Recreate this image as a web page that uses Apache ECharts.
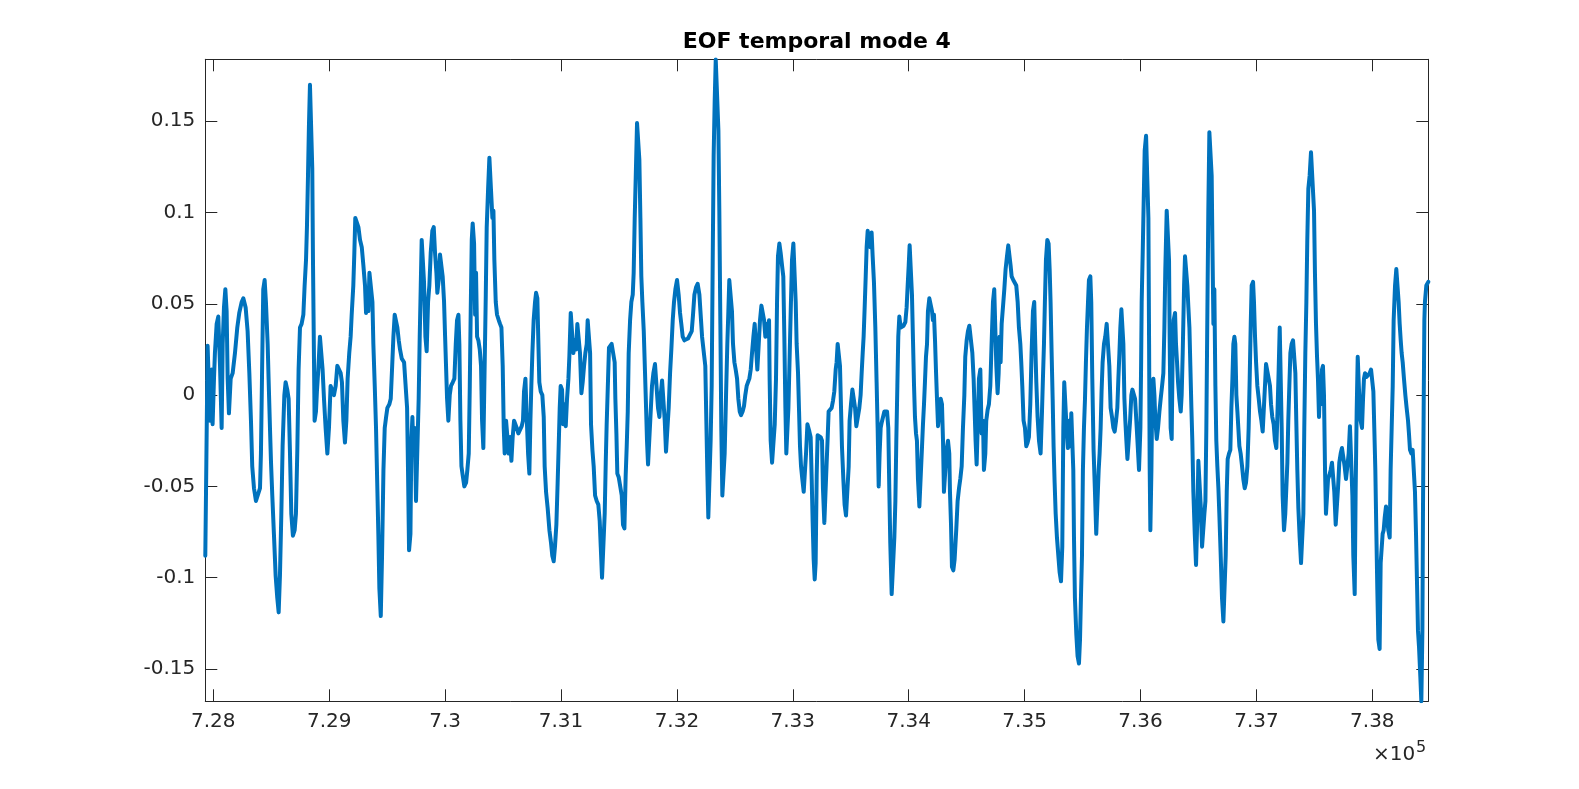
<!DOCTYPE html>
<html>
<head>
<meta charset="utf-8">
<script src="https://cdn.jsdelivr.net/npm/echarts@6/dist/echarts.min.js"></script>
<style>
html,body{margin:0;padding:0;background:#fff;}
#chart{width:1579px;height:789px;}
</style>
</head>
<body>
<div id="chart"></div>
<script>
// ---------------- data ----------------
const chartTitle = 'EOF temporal mode 4';
const xTicks = [728000,729000,730000,731000,732000,733000,734000,735000,736000,737000,738000];
const yTicks = [-0.15,-0.1,-0.05,0,0.05,0.1,0.15];
const xRange = [727931, 738483];
const yRange = [-0.1677, 0.1839];
const exponentBase = '\u00d710';
const exponentPower = '5';

// time (datenum)
const dates = [
727931,727940,727951,727957,727971,727986,727994,728006,728014,728029,
728043,728058,728072,728081,728092,728104,728115,728124,728135,728150,
728167,728187,728207,728224,728245,728259,728279,728296,728311,728325,
728336,728351,728368,728385,728403,728411,728420,728431,728443,728454,
728469,728477,728489,728498,728509,728523,728538,728552,728564,728575,
728587,728598,728613,728624,728638,728650,728661,728673,728687,728702,
728713,728725,728736,728748,728762,728777,728788,728800,728808,728817,
728825,728834,728846,728854,728860,728869,728874,728886,728894,728906,
728920,728932,728943,728955,728969,728984,728998,729012,729027,729041,
729056,729070,729084,729099,729110,729122,729136,729148,729159,729173,
729185,729194,729208,729217,729225,
729232,729252,729266,729281,729295,729309,729318,729330,729338,729347,
729361,729373,729381,729393,729404,729416,729424,729433,729445,729456,
729468,729479,729491,729502,729519,729531,729542,729554,729565,729577,
729588,729600,729611,729626,729646,729663,729672,729680,729689,729701,
729709,729718,729726,729738,729749,729764,729772,729781,729790,729798,
729810,729818,729830,729841,729853,729864,729876,729890,729902,729913,
729925,729933,729945,729956,729968,729979,729991,730000,730008,730017,
730028,730040,730051,730066,730080,730092,730103,730115,730123,730132,
730141,730152,730166,730181,730192,730204,730213,730221,730230,730238,
730250,730259,730267,730276,730287,730299,730310,730319,730330,730342,
730351,730359,730371,730382,730397,730408,730417,730425,730437,730448,
730463,730474,730486,730497,730506,730514,730526,730537,730549,
730560,730572,730583,730595,730606,730618,730632,730647,730661,730672,
730681,730693,730704,730716,730727,730736,730744,730753,730764,730776,
730785,730796,730805,730813,730825,730839,730851,730859,730871,730885,
730900,730914,730925,730937,730948,730960,730971,730980,730989,730997,
731009,731018,731029,731041,731052,731064,731072,731084,731095,731107,
731118,731130,731141,731153,731164,731176,731187,731199,731210,731222,
731230,731242,731251,731259,731271,731282,731294,731308,731322,731334,
731343,731354,731368,731377,731386,731394,731406,731414,731426,731437,
731452,731463,731469,731478,731486,731498,731509,731524,731535,731547,
731558,731567,731576,731584,731596,731607,731619,731627,731636,731645,
731656,731668,731676,731685,731693,731702,731714,731725,731734,731742,
731751,731762,731774,731785,731797,731811,731826,731837,731849,
731860,731872,731883,731895,731906,731918,731929,731941,731952,731964,
731975,731987,732001,732015,732027,732038,732050,732064,732079,732096,
732113,732128,732139,732151,732165,732179,732194,732205,732217,732234,
732245,732254,732263,732271,732283,732291,732300,732309,732317,732326,
732335,732346,732358,732366,732375,732383,732392,732404,732412,732424,
732435,732444,732452,732467,732475,732484,732496,732507,732519,732530,
732542,732553,732567,732579,732590,732602,732613,732625,732637,732648,
732660,732671,732683,732694,732706,732717,732729,732740,732752,732763,
732775,732786,732795,732800,732809,732821,732832,732844,732855,732864,
732872,732884,732895,732907,732918,732927,732936,732944,732953,732962,
732970,732982,732993,733005,733016,733025,733033,733045,733054,733062,
733071,733082,733094,733105,733114,733126,733137,
733143,733154,733163,733171,733180,733189,733197,733206,733214,733226,
733240,733252,733260,733272,733283,733292,733301,733309,733321,733335,
733347,733358,733370,733378,733387,733398,733407,733416,733424,733436,
733447,733459,733470,733482,733490,733502,733514,733525,733537,733548,
733562,733574,733585,733594,733603,733611,733620,733629,733637,733646,
733657,733669,733680,733689,733700,733712,733723,733732,733741,733749,
733758,733767,733778,733790,733801,733813,733824,733833,733841,733853,
733864,733876,733885,733893,733902,733910,733919,733931,733942,733956,
733971,733982,733991,734000,734008,734020,734028,734037,734046,734054,
734063,734071,734080,734092,734103,734115,734123,734132,734140,734149,
734158,734166,734178,734189,734201,734209,734218,734227,734235,734244,
734253,734264,734276,734287,734296,734304,734316,734327,734339,734350,
734356,734365,734373,734385,734396,
734410,734422,734434,734445,734457,734468,734480,734488,734500,734511,
734523,734537,734549,734560,734569,734577,734586,734595,734606,734618,
734629,734641,734649,734661,734669,734681,734692,734704,734715,734727,
734738,734747,734756,734767,734776,734784,734793,734802,734813,734825,
734836,734848,734859,734871,734879,734888,734902,734917,734928,734940,
734951,734963,734971,734980,734991,735003,735014,735026,735037,735049,
735060,735072,735083,735092,735101,735112,735124,735138,735150,735158,
735167,735175,735184,735196,735207,735216,735224,735233,735242,735250,
735259,735268,735279,735291,735302,735314,735325,735334,735342,735354,
735362,735374,735383,735394,735403,735414,735420,735426,735434,735446,
735457,735469,735478,735486,735495,735503,735512,735521,735529,735538,
735547,735555,735567,735575,735584,735595,735607,735618,735630,735639,
735647,735656,735664,735673,735685,735696,735708,735719,735731,735742,
735754,
735766,735777,735789,735800,735809,735818,735826,735835,735843,735852,
735861,735869,735878,735887,735898,735910,735921,735930,735941,735953,
735964,735976,735987,735999,736005,736010,736019,736028,736036,736048,
736059,736068,736074,736079,736085,736094,736102,736111,736120,736128,
736140,736151,736163,736174,736186,736197,736206,736214,736226,736237,
736246,736252,736260,736269,736278,736286,736298,736306,736315,736324,
736335,736347,736355,736364,736376,736384,736396,736404,736413,736422,
736430,736439,736447,736456,736468,736479,736491,736499,736511,736519,
736531,736542,736551,736560,736568,736577,736585,736594,736606,736614,
736620,736629,736637,736646,736654,736663,736672,736680,736692,736703,
736715,736726,736735,736744,736752,736764,736775,736784,736793,736801,
736810,736818,736827,736836,736844,736853,736864,736876,736887,736899,
736910,736922,736933,736942,736951,736959,736971,736979,736988,736997,
737008,737020,737031,737043,737054,737066,737077,
737083,737094,737106,737117,737126,737137,737149,737160,737172,737183,
737192,737201,737209,737218,737226,737238,737249,737258,737267,737275,
737284,737293,737304,737316,737327,737336,737344,737353,737362,737373,
737385,737396,737405,737413,737422,737431,737439,737448,737459,737471,
737485,737497,737505,737514,737523,737531,737540,737549,737557,737566,
737574,737583,737592,737600,737609,737618,737629,737641,737652,737664,
737672,737684,737695,737704,737715,737727,737738,737750,737761,737773,
737784,737796,737807,737819,737828,737836,737848,737856,737865,737874,
737882,737891,737899,737911,737920,737928,737937,737951,737966,737977,
737989,738000,738009,738017,738026,738035,738043,738052,738063,738072,
738081,738089,738098,738107,738118,738130,738138,738150,738158,738167,
738176,738184,738196,738207,738219,738227,738236,738245,738253,738262,
738273,738285,738296,738308,738316,738325,738337,738348,738360,738368,
738377,738386,738394,738403,738414,738423,738432,738437,738443,738449,
738454,738466,738483
];

// EOF mode-4 amplitude
const eof4 = [
-0.088,-0.037,0.027,0.027,-0.014,0.014,-0.016,0.009,0.023,0.039,
0.043,0.016,-0.018,0.028,0.048,0.058,0.046,0.009,-0.010,0.009,
0.012,0.023,0.037,0.045,0.051,0.053,0.048,0.035,0.012,-0.014,
-0.039,-0.051,-0.058,-0.059,-0.051,-0.032,0.009,0.058,0.063,0.051,
0.028,0.009,-0.018,-0.037,-0.055,-0.076,-0.099,-0.111,-0.119,-0.099,
-0.065,-0.028,0,0.007,0.003,-0.002,-0.030,-0.065,-0.077,-0.074,
-0.065,-0.030,0.014,0.037,0.039,0.044,0.060,0.074,0.092,0.120,
0.147,0.170,0.170,0.124,0.074,0.018,-0.014,-0.009,0.002,0.014,
0.032,0.032,0.014,-0.002,-0.018,-0.032,-0.018,0.005,0.006,0,
0.005,0.016,0.017,0.012,0.007,-0.014,-0.026,-0.014,0.009,0.023,
0.032,0.044,0.060,0.078,0.097,
0.097,0.092,0.085,0.081,0.071,0.060,0.045,0.058,0.046,0.067,
0.068,0.051,0.028,0.005,-0.018,-0.053,-0.076,-0.106,-0.121,-0.088,
-0.041,-0.018,-0.012,-0.007,-0.005,-0.002,0.014,0.032,0.044,0.044,
0.037,0.030,0.025,0.020,0.018,0.018,-0.007,-0.041,-0.085,-0.076,
-0.025,-0.012,-0.030,-0.018,-0.058,-0.058,-0.002,0.032,0.060,0.085,
0.085,0.062,0.032,0.024,0.051,0.060,0.078,0.090,0.092,0.078,
0.067,0.056,0.063,0.077,0.076,0.065,0.051,0.032,0.016,-0.002,
-0.014,0,0.005,0.007,0.009,0.028,0.041,0.044,0.028,-0.014,
-0.039,-0.044,-0.050,-0.048,-0.041,-0.032,0.005,0.046,0.085,0.094,
0.083,0.044,0.067,0.032,0.030,0.025,0.016,-0.014,-0.029,-0.028,
0.055,0.092,0.113,0.130,0.130,0.097,0.101,0.074,0.051,0.044,
0.041,0.039,0.037,0.016,-0.018,-0.032,-0.014,-0.013,-0.032,
-0.023,-0.036,-0.023,-0.014,-0.013,-0.018,-0.021,-0.020,-0.017,-0.014,
0.002,0.009,-0.012,-0.032,-0.043,-0.014,0.005,0.023,0.041,0.051,
0.056,0.053,0.028,0.007,0.002,0,-0.012,-0.039,-0.053,-0.062,
-0.074,-0.081,-0.088,-0.091,-0.083,-0.071,-0.048,-0.028,-0.007,0.005,
0.003,-0.016,-0.005,-0.017,-0.002,0.009,0.021,0.045,0.045,0.023,
0.030,0.025,0.039,0.040,0.023,0.001,0.007,0.016,0.023,0.028,
0.041,0.041,0.023,-0.016,-0.030,-0.039,-0.055,-0.058,-0.060,-0.069,
-0.083,-0.100,-0.100,-0.065,-0.037,-0.016,0.009,0.026,0.025,0.028,
0.028,0.018,-0.002,-0.021,-0.043,-0.045,-0.046,-0.055,-0.071,-0.073,
-0.044,-0.028,-0.009,0.023,0.041,0.051,0.055,0.067,0.097,0.120,
0.149,0.149,0.129,0.097,0.065,0.051,0.035,0.012,-0.007,-0.025,
-0.038,-0.037,-0.009,0.005,0.012,0.017,0.017,-0.007,-0.012,
0,0.008,0.007,-0.014,-0.031,-0.030,-0.007,0.012,0.025,0.041,
0.051,0.058,0.063,0.055,0.045,0.039,0.032,0.030,0.030,0.031,
0.031,0.035,0.044,0.055,0.059,0.061,0.055,0.044,0.032,0.032,
0.016,-0.014,-0.044,-0.067,-0.067,-0.025,0.005,0.074,0.131,0.161,
0.1838,0.1838,0.145,0.101,0.039,-0.018,-0.055,-0.055,-0.032,0,
0.028,0.046,0.063,0.063,0.046,0.028,0.018,0.014,0.009,-0.002,
-0.009,-0.011,-0.009,-0.006,0,0.005,0.007,0.009,0.014,0.023,
0.032,0.039,0.039,0.014,0.028,0.041,0.049,0.048,0.041,0.032,
0.039,0.032,0.041,0.009,-0.025,-0.037,-0.038,-0.016,0.009,0.051,
0.076,0.083,0.078,0.071,0.065,0.032,-0.007,-0.032,-0.032,-0.007,
0.014,0.046,0.074,0.083,0.083,0.051,0.028,0.012,-0.009,-0.028,
-0.039,-0.046,-0.053,-0.053,-0.032,-0.016,-0.015,
-0.020,-0.023,-0.046,-0.069,-0.090,-0.101,-0.092,-0.044,-0.022,-0.022,
-0.023,-0.025,-0.051,-0.070,-0.069,-0.037,-0.023,-0.009,-0.008,-0.007,
-0.003,0.002,0.014,0.018,0.028,0.029,0.016,-0.007,-0.028,-0.046,
-0.060,-0.066,-0.065,-0.039,-0.014,-0.005,0.003,0.003,-0.007,-0.017,
-0.017,-0.007,0,0.012,0.023,0.032,0.048,0.065,0.081,0.090,
0.090,0.081,0.089,0.076,0.062,0.037,0.007,-0.018,-0.050,-0.032,
-0.018,-0.015,-0.014,-0.009,-0.008,-0.009,-0.018,-0.053,-0.081,-0.109,
-0.108,-0.078,-0.058,-0.025,0.005,0.032,0.043,0.037,0.036,0.038,
0.040,0.048,0.060,0.071,0.082,0.082,0.055,0.030,0.005,-0.012,
-0.021,-0.025,-0.046,-0.061,-0.061,-0.028,-0.016,-0.005,0.007,0.021,
0.028,0.046,0.053,0.054,0.046,0.041,0.044,0.030,0.014,-0.002,
-0.017,-0.017,-0.002,-0.005,-0.025,-0.053,-0.053,-0.030,-0.025,-0.032,
-0.053,-0.071,-0.094,-0.096,-0.090,
-0.074,-0.058,-0.051,-0.046,-0.039,-0.018,0,0.021,0.030,0.035,
0.038,0.038,0.023,0.009,-0.009,-0.025,-0.038,-0.018,0.009,0.014,
-0.021,-0.014,-0.041,-0.032,-0.014,-0.008,-0.005,0.005,0.028,0.051,
0.058,0.037,0.016,0.001,0.012,0.032,0.018,0.039,0.048,0.058,
0.069,0.076,0.082,0.081,0.071,0.065,0.063,0.062,0.060,0.051,
0.037,0.028,0.018,0.005,-0.014,-0.018,-0.028,-0.026,-0.023,-0.005,
0.023,0.046,0.051,0.028,0.007,-0.012,-0.025,-0.032,-0.009,0.009,
0.028,0.051,0.074,0.085,0.083,0.069,0.051,0.023,-0.002,-0.028,
-0.048,-0.065,-0.078,-0.088,-0.097,-0.102,-0.083,-0.018,0.007,0.007,
-0.018,-0.029,-0.014,-0.028,-0.010,-0.010,-0.041,-0.078,-0.111,-0.131,
-0.143,-0.147,-0.134,-0.111,-0.088,-0.041,-0.018,-0.002,0.018,0.037,
0.051,0.063,0.065,0.051,0.009,-0.030,-0.053,-0.076,-0.076,-0.041,
-0.032,-0.018,0.002,0.018,0.028,0.032,0.039,0.040,0.016,-0.007,
-0.012,
-0.018,-0.020,-0.014,-0.007,0.009,0.023,0.037,0.047,0.047,0.028,
-0.002,-0.014,-0.025,-0.035,-0.036,-0.014,0,0.003,0.002,-0.002,
-0.014,-0.028,-0.041,-0.018,0.016,0.051,0.078,0.108,0.134,0.142,
0.142,0.097,0.028,-0.039,-0.074,-0.041,0.005,0.009,0,-0.014,
-0.024,-0.018,-0.009,-0.002,0.005,0.012,0.037,0.069,0.101,0.101,
0.074,0.028,-0.018,-0.024,0.028,0.041,0.045,0.028,0.018,0.007,
-0.002,-0.009,0,0.023,0.060,0.076,0.075,0.060,0.048,0.037,
0.016,-0.007,-0.025,-0.053,-0.076,-0.093,-0.065,-0.036,-0.036,-0.060,
-0.083,-0.083,-0.065,-0.058,-0.018,0.046,0.101,0.144,0.144,0.120,
0.085,0.039,0.058,0.005,-0.025,-0.039,-0.051,-0.065,-0.088,-0.111,
-0.124,-0.125,-0.088,-0.053,-0.035,-0.032,-0.030,-0.007,0.009,0.028,
0.032,0.028,0,-0.009,-0.018,-0.028,-0.032,-0.039,-0.046,-0.051,
-0.048,-0.039,-0.018,0.009,0.039,0.060,0.062,0.051,0.032,0.018,
0.005,-0.002,-0.009,-0.014,-0.020,-0.005,0.009,
0.017,0.018,0.009,0.005,-0.005,-0.012,-0.016,-0.025,-0.029,-0.007,
0.014,0.037,0.037,-0.018,-0.055,-0.074,-0.065,-0.051,-0.037,-0.014,
0.005,0.023,0.028,0.030,0.030,0.012,-0.014,-0.041,-0.062,-0.078,
-0.092,-0.093,-0.065,-0.018,0.023,0.051,0.085,0.113,0.120,0.133,
0.133,0.101,0.067,0.039,0.021,0.009,-0.012,0.009,-0.005,0.014,
0.016,0,-0.041,-0.065,-0.065,-0.046,-0.044,-0.041,-0.037,-0.036,
-0.053,-0.071,-0.071,-0.051,-0.037,-0.032,-0.029,-0.028,-0.039,-0.046,
-0.046,-0.032,-0.017,-0.017,-0.055,-0.088,-0.109,-0.053,-0.009,0.021,
0.021,-0.007,-0.014,-0.018,-0.002,0.009,0.012,0.010,0.009,0.012,
0.014,0.014,0.002,-0.018,-0.041,-0.076,-0.106,-0.134,-0.139,-0.092,
-0.092,-0.076,-0.074,-0.067,-0.061,-0.062,-0.074,-0.078,-0.041,-0.018,
0.005,0.041,0.060,0.069,0.068,0.051,0.039,0.030,0.023,0.018,
0.009,0,-0.007,-0.014,-0.021,-0.030,-0.032,-0.030,-0.029,-0.053,
-0.076,-0.104,-0.129,-0.138,-0.154,-0.1677,-0.129,-0.065,-0.007,0.041,
0.051,0.060,0.062
];

// ---------------- chart ----------------
const FONT = '"DejaVu Sans", "Liberation Sans", sans-serif';
const AXIS = '#262626';
const chart = echarts.init(document.getElementById('chart'), null, {renderer: 'canvas'});

const seriesData = dates.map((d, i) => [d, eof4[i]]);

function xAxisDef(pos, showLabel) {
  return {
    type: 'value', position: pos, min: xRange[0], max: xRange[1],
    axisLine: {show: true, onZero: false, lineStyle: {color: AXIS, width: 1}},
    axisTick: {show: true, inside: true, length: 12, customValues: xTicks, lineStyle: {color: AXIS, width: 1}},
    axisLabel: {show: showLabel, customValues: xTicks, formatter: v => String(v / 1e5),
      fontSize: 20, fontFamily: FONT, color: AXIS, margin: 10},
    splitLine: {show: false}
  };
}
function yAxisDef(pos, showLabel) {
  return {
    type: 'value', position: pos, min: yRange[0], max: yRange[1],
    axisLine: {show: true, onZero: false, lineStyle: {color: AXIS, width: 1}},
    axisTick: {show: true, inside: true, length: 12, customValues: yTicks, lineStyle: {color: AXIS, width: 1}},
    axisLabel: {show: showLabel, customValues: yTicks, formatter: v => String(v),
      fontSize: 20, fontFamily: FONT, color: AXIS, margin: 10},
    splitLine: {show: false}
  };
}

const option = {
  animation: false,
  backgroundColor: '#ffffff',
  grid: {left: 205.3, top: 59.3, right: 150.7, bottom: 87.7, containLabel: false},
  xAxis: [xAxisDef('bottom', true), xAxisDef('top', false)],
  yAxis: [yAxisDef('left', true), yAxisDef('right', false)],
  series: [{
    type: 'line',
    data: seriesData,
    xAxisIndex: 0, yAxisIndex: 0,
    showSymbol: false, symbol: 'none',
    silent: true, clip: true,
    lineStyle: {color: '#0072BD', width: 4, join: 'round', cap: 'round'}
  }],
  graphic: [
    {type: 'text', x: 816.8, y: 42.4, z: 10,
      style: {text: chartTitle, font: 'bold 22px ' + FONT, fill: '#000000',
        align: 'center', verticalAlign: 'middle', textAlign: 'center', textVerticalAlign: 'middle'}},
    {type: 'text', x: 1373, y: 755, z: 10,
      style: {text: exponentBase, font: '20px ' + FONT, fill: AXIS,
        align: 'left', verticalAlign: 'middle', textAlign: 'left', textVerticalAlign: 'middle'}},
    {type: 'text', x: 1416, y: 748.3, z: 10,
      style: {text: exponentPower, font: '16px ' + FONT, fill: AXIS,
        align: 'left', verticalAlign: 'middle', textAlign: 'left', textVerticalAlign: 'middle'}}
  ]
};
chart.setOption(option);
</script>
</body>
</html>
